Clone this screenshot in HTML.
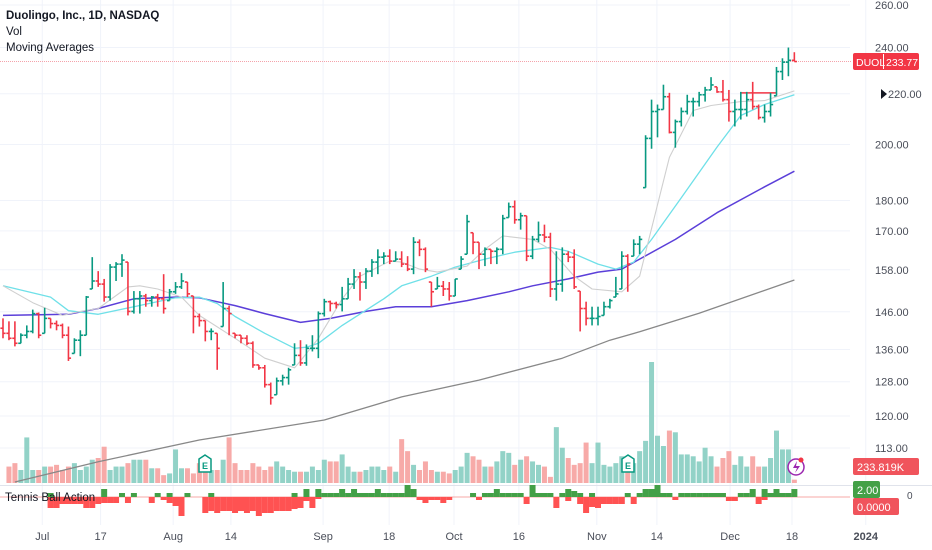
<!DOCTYPE html>
<html><head><meta charset="utf-8"><style>
html,body{margin:0;padding:0;background:#fff;width:932px;height:550px;overflow:hidden}
svg{display:block;font-family:"Liberation Sans",Arial,sans-serif}
</style></head><body>
<svg id="chart" width="932" height="550" viewBox="0 0 932 550" style="position:absolute;left:0;top:0"></svg>
<script>
const highs=[144.2,143.4,143.4,140.2,142.3,146.6,145.8,147.1,144.2,143.6,142.8,142,138.9,141,150.4,161.8,157.6,155.3,159.7,160.3,162.7,160.3,151.8,151.8,151,150.4,151,156.7,152.4,154.4,157,154.4,150.4,145.5,143.6,141.5,140.2,154.4,147.7,140.2,139.7,139.7,138.1,132.1,132.1,127.8,129,129.7,131.4,137.6,138.4,137.3,139.7,146.1,149.6,149.1,148.8,153,155.6,158.2,157.3,158.5,161.2,164.2,163.3,164.2,163.6,163.6,162.1,168,167.3,164.8,154.4,155.9,154.7,154.4,155.3,162.1,175.2,169.4,166.4,164.8,164.2,164.8,175.2,179.3,180,175.9,174.9,168.4,173,172,169.4,163.6,164.8,163.6,164.2,151.8,148.8,147.4,147.4,148.8,149.6,155.9,163.6,162.7,167.3,168.4,203.5,217.6,215.6,223.8,220.4,209.6,214.4,219.6,218.4,220.8,222.9,227,222.9,225.8,221.6,217.6,220.8,220.8,225,215.6,215.6,220.4,231.4,235.2,240,237.9];
const lows=[138.9,138.4,136.8,137.6,138.9,140.2,138.9,140.2,141.5,141,138.9,133.1,135,134.3,139.7,152.4,153,148.8,149.1,154.7,155.9,145,145.5,145.5,147.4,147.4,147.4,145.5,149.1,151,152.4,150.1,140.2,142,138.1,138.4,130.9,142,139.7,138.9,137.6,137.1,131.4,130.9,126.6,122.6,124.9,127.1,127.3,132.1,131.9,131.9,135.5,133.8,144.7,146.1,146.9,146.1,149.6,152.4,149.1,152.4,155.9,156.7,159.7,159.7,160.6,158.8,157.6,156.7,162.1,157.3,147.4,152.4,150.4,149.1,150.4,158.2,162.7,162.7,158.2,159.1,159.7,159.7,162.7,174.3,172.3,170.4,160.6,161.2,166.4,166.4,150.1,149.1,151.6,160.3,152.4,140.7,142.3,142.3,142.3,145,146.9,150.1,152.4,151.6,162.1,162.7,184.4,198.4,202.7,213.6,204.2,198.8,206.9,211.6,210.8,214.8,216.8,221.6,220.4,216.8,208.8,206.9,209.6,210.8,213.6,209.6,208.4,210.8,219.2,225.8,227.4,233.8];
const closes=[140.2,138.9,137.6,139.7,140.7,145.5,139.7,144.2,142.8,142.3,139.7,133.8,138.4,139.7,150.1,154.7,153.8,150.1,158.8,159.7,160.9,146.1,149.6,150.4,149.1,150.1,149.6,146.9,151.6,153,154.7,151,144.7,143.6,140.7,140.7,136.3,146.9,145.5,139.7,138.9,137.6,132.1,131.4,127.3,124.2,128.2,129,130.9,134.5,132.6,136.3,136.3,145.5,148.8,148.3,148,149.6,153.8,155.9,154.4,157.6,160.3,161.8,162.1,160.6,161.2,159.7,158.2,166.4,164.2,158.2,151.6,153.2,152.4,150.4,155.3,161.2,173,166.4,162.7,164.2,163.6,164.2,174,177.9,173.6,174.9,162.1,167.3,168.7,168,152.4,153.8,162.7,161.8,153,146.9,144.2,144.2,144.7,147.4,149.1,151,162.1,159.7,165.8,167.3,202.3,212.8,213.6,218.8,204.6,208.8,212.8,216.8,216.8,219.6,221.6,223.7,220.8,217.6,212.8,213.6,213.6,217.6,214.8,210.4,212.8,215.6,229.4,233.5,234.3,233.77];
const volumesK=[1150,1390,910,3190,910,910,1150,1150,1270,910,1150,1390,910,1150,1630,1750,2540,910,1150,1150,1390,1630,1630,1630,1030,1030,550,670,2350,1030,1030,670,1390,1630,910,910,1630,3190,1390,910,910,1390,1150,910,1150,1510,1150,910,790,790,790,1150,910,1630,1510,1510,2000,1150,790,790,910,1150,1150,910,1150,790,3070,2230,1270,910,1510,910,790,790,670,910,1150,2110,1870,1630,1150,1150,1510,2230,2110,1270,1630,1870,1510,1270,1150,430,3910,2470,1750,1270,1390,2830,1390,2830,1270,1150,1390,1870,1870,1390,2230,2950,8470,3310,2590,3670,3550,2000,2000,1870,1510,2470,1870,1150,1750,2230,1270,1870,1150,1870,1150,1150,1750,3670,2350,2350,234];
const tbaUp=[4,0,0,0,0,0,0,0,0,8,0,0,4,0,4,0,0,0,4,0,4,0,0,4,0,0,0,4,0,0,0,0,0,0,0,0,0,0,0,0,0,4,0,8,0,8,4,4,4,8,4,8,4,4,4,8,4,4,4,4,12,8,0,0,0,0,0,0,0,0,0,4,0,4,4,8,4,4,4,4,0,12,4,4,4,0,4,8,6,4,0,4,0,0,0,0,0,4,0,4,8,8,12,4,4,0,4,4,4,4,4,4,4,4,0,0,4,4,8,0,8,4,8,4,4,8];
const tbaDown=[11,11,7,7,7,7,11,11,7,6,6,6,0,6,0,0,0,6,0,3,6,9,19,0,0,0,16,14,16,14,14,16,14,16,14,19,16,16,14,14,14,12,11,4,11,2,0,0,0,0,0,0,0,0,0,0,0,0,0,0,0,0,3,6,3,3,6,3,0,0,0,0,3,0,0,0,0,0,0,0,7,0,0,0,0,11,0,4,0,7,16,10,11,7,7,7,7,0,7,0,0,0,0,0,0,3,0,0,0,0,0,0,0,0,4,4,0,0,0,7,3,0,0,0,0,0];
const ma10Idx=[0,5,10,13,16,21,23,26,30,33,39,44,49,50,53,57,60,65,67,70,73,78,81,84,89,92,96,99,104,107,112,116,119,124,128,133];
const ma10Val=[153.3,148.5,145,146.1,146.9,153,153.3,152.4,150.1,145,138.9,133.8,131.4,133.1,138.9,149.6,156.1,160.6,160.3,158.2,157.3,159.1,164.2,168.4,167.3,164.2,156.1,152.4,151.6,156.1,195.2,213.2,215.2,216.8,217.2,221.2];
const ma21Idx=[0,8,11,16,22,29,33,36,39,44,49,51,53,57,64,67,72,76,81,86,92,95,100,103,106,109,114,120,124,128,133];
const ma21Val=[153.3,150.1,146.3,145.3,147.4,149.9,150.1,148.3,144.7,140.2,136.3,136.6,137.6,142.3,149.6,153.3,156.1,158.8,161.2,163.3,164.8,163.6,159.7,158.2,160.3,167.3,180.9,199,211.2,215.6,219.6];
const ma50Idx=[0,11,16,22,29,33,39,44,50,55,61,66,72,78,85,89,95,100,104,107,113,120,128,133];
const ma50Val=[145,145.3,146.9,149.6,150.1,149.9,147.7,145.5,143.1,144.2,146.1,147.4,147.4,149.1,151.6,153.3,155.3,157.3,158.2,161.2,167.3,175.9,184.7,190.2];
const ma200Idx=[2,16,33,54,67,80,94,102,107,117,133];
const ma200Val=[106,110.1,114.7,119.1,124.4,128.4,133.8,138.4,140.6,145.6,155];
const priceTicks=[260,240,220,200,180,170,158,146,136,128,120,113];
const dateLabels=["Jul","17","Aug","14","Sep","18","Oct","16","Nov","14","Dec","18","2024"];
const dateIdx=[6.6,16.4,28.6,38.3,53.8,64.9,75.8,86.7,99.8,109.9,122.2,132.6,145];

const NS="http://www.w3.org/2000/svg";
const svg=document.getElementById('chart');
const N=closes.length, STEP=5.95, X0=3;
const xOf=i=>X0+i*STEP;
const yOf=p=>5+(Math.log(260)-Math.log(p))*531.6;
const VOL_BASE=483, VOL_SCALE=1/70;
const TBA_BASE=497;
const GREEN='#089981', RED='#f23645';
function mk(tag,attrs,parent){const e=document.createElementNS(NS,tag);for(const k in attrs)e.setAttribute(k,attrs[k]);(parent||svg).appendChild(e);return e;}

const grid=mk('g',{});


priceTicks.forEach(p=>{const y=yOf(p);mk('line',{x1:0,x2:850,y1:y,y2:y,stroke:'#f0f3fa','stroke-width':1},grid);});
dateIdx.forEach(d=>{const x=xOf(d);mk('line',{x1:x,x2:x,y1:0,y2:525,stroke:'#f0f3fa','stroke-width':1},grid);});
mk('line',{x1:0,x2:932,y1:485.5,y2:485.5,stroke:'#e0e3eb','stroke-width':1});

const volG=mk('g',{});


const vOff=N-volumesK.length;
const opens=closes.map((c,i)=>{if(i===0)return (highs[0]+lows[0])/2;const pc=closes[i-1];return Math.min(highs[i],Math.max(lows[i],pc));});
volumesK.forEach((v,k)=>{const i=k+vOff;const up=closes[i]>=opens[i];const h=v*VOL_SCALE;
 const r=mk('rect',{x:xOf(i)-2.5,y:VOL_BASE-h,width:5,height:h,fill:up?'#92d2c7':'#f7aaa8'},volG);
 
 });

function maLine(idx,val,color,w,name){const pts=idx.map((d,k)=>xOf(d).toFixed(1)+','+yOf(val[k]).toFixed(1)).join(' ');
 const l=mk('polyline',{points:pts,fill:'none',stroke:color,'stroke-width':w,'stroke-linejoin':'round'});
 
 }
maLine(ma200Idx,ma200Val,'#888888',1.3,'ma200-line');
maLine(ma50Idx,ma50Val,'#5b3fd9',1.5,'ma50-line');
maLine(ma21Idx,ma21Val,'#6fe0e8',1.3,'ma21-line');
maLine(ma10Idx,ma10Val,'#cfcfcf',1.1,'ma10-line');

const lp=mk('line',{x1:0,x2:852,y1:yOf(closes[N-1]),y2:yOf(closes[N-1]),stroke:'#f4a3ab','stroke-width':1,'stroke-dasharray':'1,1'});


const dl=mk('line',{x1:xOf(124),x2:xOf(130),y1:yOf(220.4),y2:yOf(220.4),stroke:RED,'stroke-width':1.5});



const barG=mk('g',{});


closes.forEach((c,i)=>{const x=xOf(i);const col=c>=opens[i]?GREEN:RED;
 const g=mk('g',{stroke:col,'stroke-width':1.6},barG);
 
 
 mk('line',{x1:x,x2:x,y1:yOf(highs[i]),y2:yOf(lows[i])},g);
 mk('line',{x1:x-2.6,x2:x,y1:yOf(opens[i]),y2:yOf(opens[i])},g);
 mk('line',{x1:x,x2:x+2.6,y1:yOf(c),y2:yOf(c)},g);});

const tG=mk('g',{});


mk('line',{x1:0,x2:850,y1:TBA_BASE,y2:TBA_BASE,stroke:'#f7a9a7','stroke-width':1},tG);
const tOff=N-tbaUp.length;
tbaUp.forEach((u,k)=>{const x=xOf(k+tOff)-3;
 if(u>0){const r=mk('rect',{x:x,y:TBA_BASE-u,width:6,height:u,fill:'#43a047'},tG);
  
  }
 const d=tbaDown[k];
 if(d>0){const r=mk('rect',{x:x,y:TBA_BASE,width:6,height:d,fill:'#ff5252'},tG);
  
  }});

const axG=mk('g',{});


priceTicks.forEach(p=>{const t=mk('text',{x:p===220?888:875,y:yOf(p)+4,'font-size':11,fill:'#4a4e59'},axG);t.textContent=p.toFixed(2);
 
 });
dateLabels.forEach((s,k)=>{const t=mk('text',{x:xOf(dateIdx[k]),y:540,'font-size':11,fill:'#4a4e59','text-anchor':'middle','font-weight':s==='2024'?'bold':'normal'});t.textContent=s;
 
 });
</script>
<svg width="932" height="550" style="position:absolute;left:0;top:0">
 <g font-family="Liberation Sans, sans-serif" font-size="11.5" fill="#131722">
  <text x="6" y="19" font-weight="bold">Duolingo, Inc., 1D, NASDAQ</text>
  <text x="6" y="35">Vol</text>
  <text x="6" y="51">Moving Averages</text>
  <text x="5" y="501">Tennis Ball Action</text>
 </g>
 <polygon points="881,89 887,94 881,99" fill="#131722"/>
 <g font-family="Liberation Sans, sans-serif" font-size="10.5">
  <rect x="853" y="53" width="66" height="17" rx="2" fill="#f23645"/>
  <line x1="883.5" y1="54" x2="883.5" y2="69" stroke="#fff" stroke-width="1"/>
  <text x="856" y="66" fill="#fff">DUOL</text>
  <text x="886" y="66" fill="#fff">233.77</text>
 </g>
 <g font-family="Liberation Sans, sans-serif" font-size="11">
  <rect x="853" y="458" width="66" height="17" rx="2" fill="#f0545c"/>
  <text x="857" y="471" fill="#fff">233.819K</text>
 </g>
 <g font-family="Liberation Sans, sans-serif" font-size="11">
  <text x="907" y="499" fill="#4a4e59" font-size="10">0</text>
  <rect x="853" y="481" width="27" height="17" rx="2" fill="#43a047"/>
  <text x="857" y="494" fill="#fff">2.00</text>
  <rect x="853" y="498" width="46" height="17" rx="2" fill="#f0545c"/>
  <text x="857" y="511" fill="#fff">0.0000</text>
 </g>
 <g>
  <path d="M199,459 L205,455 L211,459 L211,472 L199,472 Z" fill="#fff" stroke="#089981" stroke-width="1.5"/>
  <text x="205" y="469" font-size="9" font-weight="bold" fill="#089981" text-anchor="middle" font-family="Liberation Sans, sans-serif">E</text>
 </g>
 <g>
  <path d="M622,459 L628,455 L634,459 L634,472 L622,472 Z" fill="#fff" stroke="#089981" stroke-width="1.5"/>
  <text x="628" y="469" font-size="9" font-weight="bold" fill="#089981" text-anchor="middle" font-family="Liberation Sans, sans-serif">E</text>
 </g>
 <g>
  <circle cx="796" cy="467" r="8" fill="#fff" stroke="#9c27b0" stroke-width="1.5"/>
  <path d="M797,461 L793,468 L797,468 L795,473 L800,466 L796,466 Z" fill="#9c27b0"/>
  <circle cx="801" cy="460" r="2.5" fill="#f23645"/>
 </g>
</svg>
</body></html>
